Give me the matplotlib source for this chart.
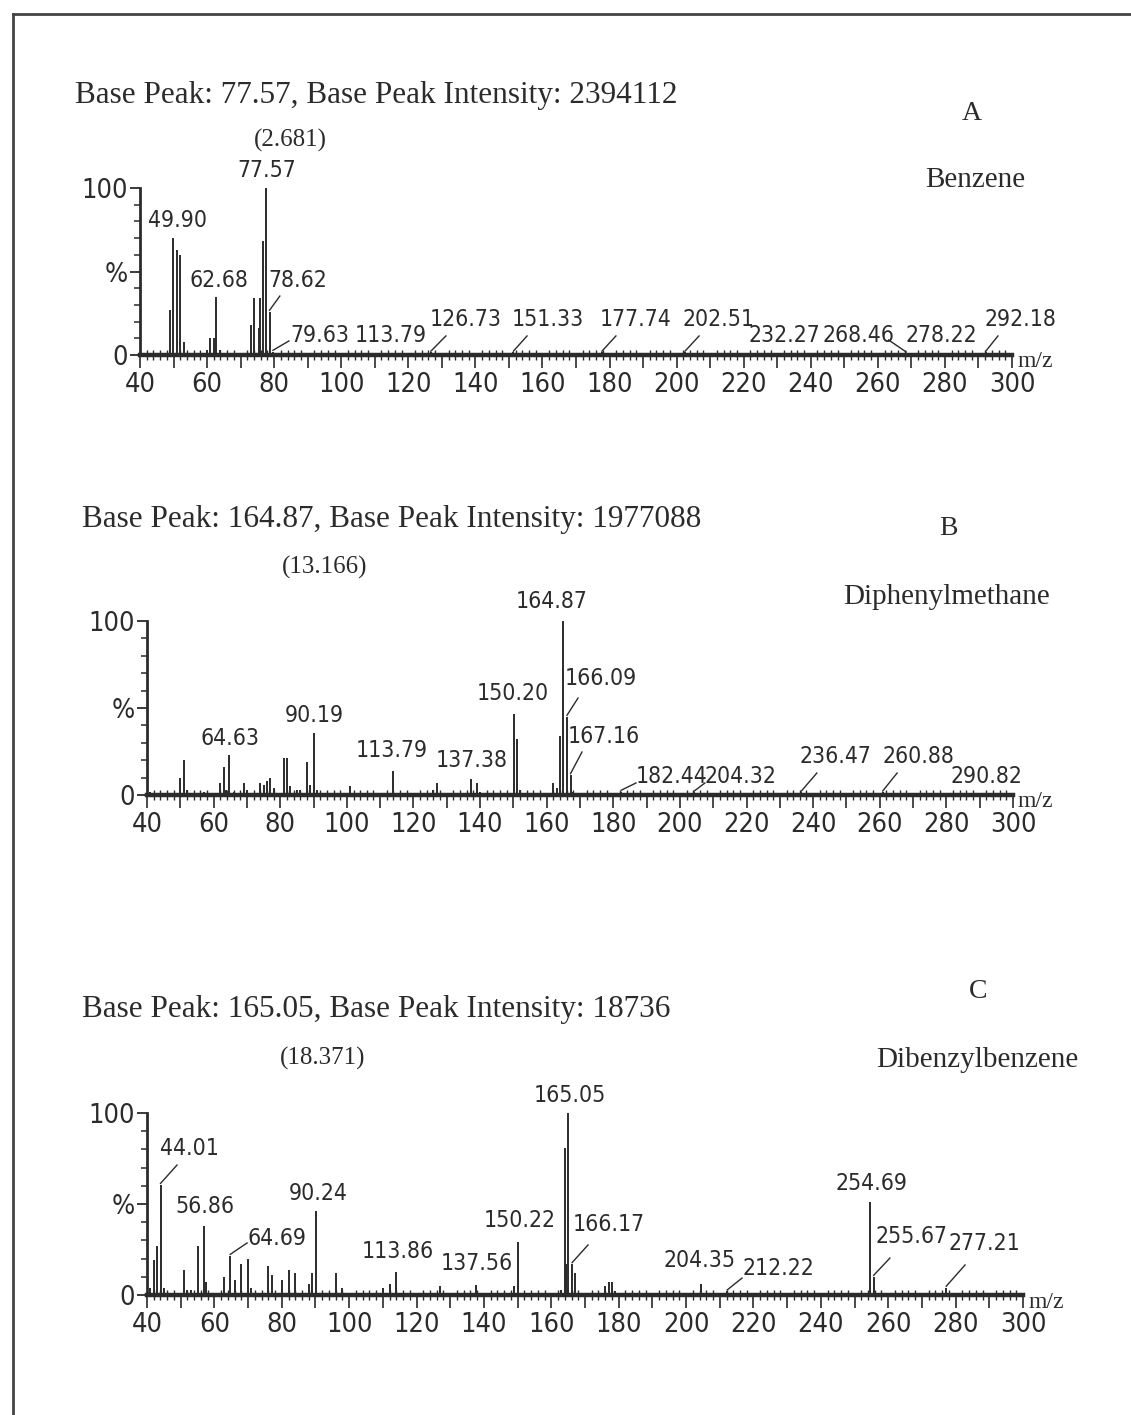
import matplotlib
matplotlib.use('Agg')
import matplotlib.pyplot as plt
from matplotlib.lines import Line2D
from matplotlib.ticker import MultipleLocator, FixedLocator, FuncFormatter
from matplotlib import font_manager as fm

INK = '#2b2b2b'
SERIF = 'Liberation Serif'


def pick_narrow():
    # look for any installed condensed / narrow regular face
    order = {'extra-condensed': 0, 'condensed': 1, 'semi-condensed': 2}
    best = None
    for f in fm.fontManager.ttflist:
        if f.style != 'normal' or f.weight not in (400, 'normal', 'regular', 'book'):
            continue
        rank = order.get(f.stretch)
        if rank is None and ('Narrow' in f.name or 'Condensed' in f.name):
            rank = 1
        if rank is None:
            continue
        if best is None or rank < best[0]:
            best = (rank, f.fname)
    if best:
        return fm.FontProperties(fname=best[1]), 1.0
    return fm.FontProperties(family='DejaVu Sans'), 0.85


NARROW, SCALE = pick_narrow()

# ---- A: benzene
mz_a = [40, 49.0, 49.90, 50.9, 51.9, 53.0, 60.0, 61.0, 62.0, 62.68, 64.0,
        73.0, 74.0, 75.4, 75.9, 76.6, 77.57, 78.62, 79.63,
        113.79, 126.73, 151.33, 177.74, 202.51, 232.27, 268.46, 278.22, 292.18]
int_a = [3, 27, 70, 63, 60, 8, 3, 10, 10, 35, 3,
         18, 34, 16, 34, 68, 100, 26, 2,
         1, 1.5, 1.5, 1.5, 1.5, 1, 1, 1, 1.5]
title_a = 'Base Peak: 77.57, Base Peak Intensity: 2394112'
rt_a = '(2.681)'
name_a = 'Benzene'

# ---- B: diphenylmethane
mz_b = [41, 42, 50, 51, 52, 57, 62, 63, 63.7, 64.63, 66, 69, 70, 74, 75, 76, 77, 78,
        81, 82, 83, 85, 86, 88, 89, 90.19, 91, 101, 113.79, 126, 127, 137.38, 139, 140,
        150.20, 151, 152, 162, 163, 163.9, 164.87, 166.09, 167.16, 168,
        182.44, 204.32, 236.47, 260.88, 290.82]
int_b = [2, 1, 10, 20, 3, 2, 7, 16, 3, 23, 2, 7, 3, 7, 6, 8, 10, 4,
         21, 21, 5, 3, 3, 19, 6, 35.5, 3, 5, 14, 3, 7, 9, 7, 2,
         46.5, 32, 3, 7, 4, 34, 100, 45, 11.5, 2,
         2, 1.5, 1.5, 1.5, 1]
title_b = 'Base Peak: 164.87, Base Peak Intensity: 1977088'
rt_b = '(13.166)'
name_b = 'Diphenylmethane'

# ---- C: dibenzylbenzene
mz_c = [41, 42, 43, 44.01, 45, 51, 52, 53, 55, 56.86, 57.5, 63, 64.69, 66, 68, 70, 71,
        76, 77, 80, 82, 84, 88, 89, 90.24, 96, 98, 110, 112, 113.86, 127, 137.56,
        149, 150.22, 163, 164, 164.5, 165.05, 166.17, 167, 176, 177, 178, 179,
        204.35, 212.22, 254.69, 255.67, 277.21]
int_c = [4, 19, 27, 60.5, 4, 14, 3, 3, 27, 38, 7, 10, 21.5, 8, 17, 20, 4,
         16, 11, 8, 14, 12, 6, 12, 46, 12, 4, 4, 6, 12.5, 5, 5.5,
         5, 29, 3, 81, 17, 100, 17, 12, 5, 7, 7, 2,
         6, 2, 51, 10, 4]
title_c = 'Base Peak: 165.05, Base Peak Intensity: 18736'
rt_c = '(18.371)'
name_c = 'Dibenzylbenzene'

# label layout: (peak, text x, text y, ha, leader end or None)
lay_a = [(77.57, 77.9, 103.6, 'center', None), (49.90, 42.4, 73.7, 'left', None),
         (62.68, 54.9, 37.7, 'left', None), (78.62, 78.2, 37.7, 'left', (81.7, 35.3)),
         (79.63, 84.7, 4.8, 'left', (84.4, 8.4)), (113.79, 104.1, 4.8, 'left', None),
         (126.73, 126.5, 14.4, 'left', (131.2, 11.4)), (151.33, 150.9, 14.4, 'left', (155.4, 11.4)),
         (177.74, 177.1, 14.4, 'left', (181.9, 11.4)), (202.51, 201.9, 14.4, 'left', (206.7, 11.4)),
         (232.27, 221.5, 4.8, 'left', None), (268.46, 243.6, 4.8, 'left', (263.2, 9.0)),
         (278.22, 268.1, 4.8, 'left', None), (292.18, 291.9, 14.4, 'left', (295.8, 11.4))]
lay_b = [(164.87, 161.6, 104.6, 'center', None), (166.09, 165.5, 60.3, 'left', (169.4, 55.7)),
         (150.20, 149.9, 51.7, 'center', None), (167.16, 166.4, 27.0, 'left', (170.6, 24.7)),
         (90.19, 90.1, 39.0, 'center', None), (64.63, 64.9, 25.9, 'center', None),
         (113.79, 113.6, 19.0, 'center', None), (137.38, 137.6, 13.2, 'center', None),
         (182.44, 186.8, 4.0, 'left', (186.8, 6.9)), (204.32, 207.5, 4.0, 'left', (207.5, 6.9)),
         (236.47, 236.0, 15.5, 'left', (241.1, 12.6)), (260.88, 260.7, 15.5, 'left', (265.2, 12.6)),
         (290.82, 281.1, 4.0, 'left', None)]
lay_c = [(165.05, 165.6, 103.3, 'center', None), (44.01, 43.9, 74.2, 'left', (48.9, 71.4)),
         (56.86, 57.2, 42.3, 'center', None), (64.69, 69.7, 24.7, 'left', (69.7, 28.6)),
         (90.24, 90.8, 49.5, 'center', None), (113.86, 114.5, 17.6, 'center', None),
         (137.56, 138.0, 11.0, 'center', None), (150.22, 150.7, 34.6, 'center', None),
         (166.17, 166.2, 32.4, 'left', (170.9, 27.5)), (204.35, 204.1, 12.6, 'center', None),
         (212.22, 216.6, 8.2, 'left', (216.6, 9.3)), (254.69, 254.9, 55.0, 'center', None),
         (255.67, 256.1, 25.8, 'left', (260.5, 20.3)), (277.21, 277.8, 22.0, 'left', (282.8, 16.5))]

W, H = 1131, 1415
fig = plt.figure(figsize=(W / 100, H / 100), dpi=100)


def px(x, y):
    return x / W, 1 - y / H


def panel(box, mz, inten, layout, title, rt, letter, name, tpos, rtpos, lpos, npos):
    x0, x1, y0, y100 = box
    ax = fig.add_axes([x0 / W, 1 - y0 / H, (x1 - x0) / W, (y0 - y100) / H])
    ax.vlines(mz, 0, inten, color=INK, lw=1.4)
    ax.set_xlim(40, 300)
    ax.set_ylim(0, 100)
    for s in ('top', 'right'):
        ax.spines[s].set_visible(False)
    ax.spines['left'].set_linewidth(2.0)
    ax.spines['bottom'].set_linewidth(3.2)
    ax.spines['left'].set_color(INK)
    ax.spines['bottom'].set_color(INK)
    ax.yaxis.set_major_locator(FixedLocator([0, 50, 100]))
    ax.set_yticklabels(['0', '%', '100'])
    ax.yaxis.set_minor_locator(MultipleLocator(10))
    ax.xaxis.set_major_locator(MultipleLocator(10))
    ax.xaxis.set_major_formatter(FuncFormatter(lambda v, p: '%d' % v if v % 20 == 0 else ''))
    ax.xaxis.set_minor_locator(MultipleLocator(2))
    ax.tick_params(axis='y', which='major', length=7, width=1.3, color=INK, pad=2)
    ax.tick_params(axis='y', which='minor', length=4, width=1.1, color=INK)
    ax.tick_params(axis='x', which='major', length=9, width=1.2, color=INK, pad=3)
    ax.tick_params(axis='x', which='minor', length=7, width=1.0, color=INK, direction='inout')
    for lab in ax.get_xticklabels() + ax.get_yticklabels():
        lab.set_fontproperties(NARROW)
        lab.set_fontsize(19.5 * SCALE)
        lab.set_color(INK)
    for val, tx, ty, ha, lead in layout:
        ax.text(tx, ty, '%.2f' % val, ha=ha, va='bottom', fontproperties=NARROW,
                fontsize=16.5 * SCALE, color=INK, clip_on=False)
        if lead:
            h = inten[mz.index(val)]
            ax.plot([val, lead[0]], [h + 0.8, lead[1]], color=INK, lw=1.0, clip_on=False)
    ax.text(301.5, -4, 'm/z', ha='left', va='center', fontsize=17, family=SERIF,
            color=INK, clip_on=False)
    fig.text(*px(*tpos), title, ha='left', va='center', fontsize=22.5, family=SERIF, color=INK)
    fig.text(*px(*rtpos), rt, ha='center', va='center', fontsize=18, family=SERIF, color=INK)
    fig.text(*px(*lpos), letter, ha='center', va='center', fontsize=20, family=SERIF, color=INK)
    fig.text(*px(*npos), name, ha='center', va='center', fontsize=21, family=SERIF, color=INK)
    return ax


panel((140, 1012, 355, 188), mz_a, int_a, lay_a, title_a, rt_a, 'A', name_a,
      (75, 95), (290, 140), (972, 113), (975, 180))
panel((147, 1013, 795, 621), mz_b, int_b, lay_b, title_b, rt_b, 'B', name_b,
      (82, 520), (325, 567), (948, 528), (947, 597))
panel((147, 1023, 1295, 1113), mz_c, int_c, lay_c, title_c, rt_c, 'C', name_c,
      (82, 1010), (323, 1058), (978, 991), (977, 1060))

# outer frame (top and left edges only)
fig.add_artist(Line2D([13 / W, 13 / W], [0, 1 - 14 / H], color='#444444', lw=2))
fig.add_artist(Line2D([13 / W, 1], [1 - 14 / H, 1 - 14 / H], color='#444444', lw=2))

fig.savefig('out.png', dpi=100, facecolor='white')
